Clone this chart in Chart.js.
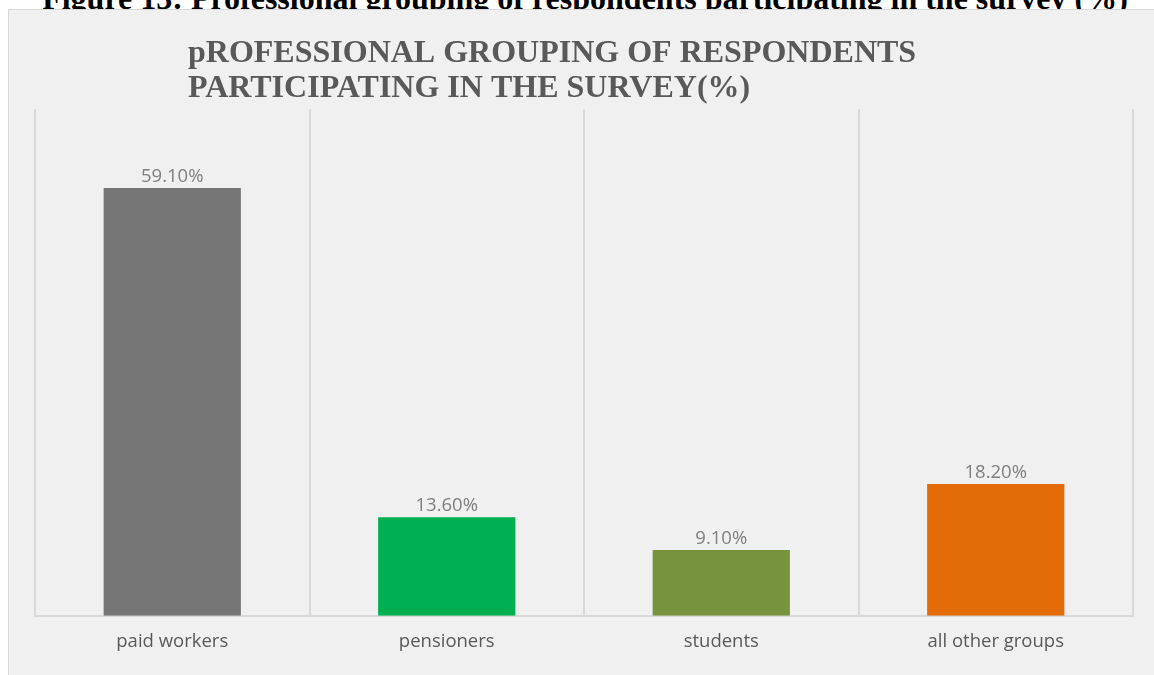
<!DOCTYPE html>
<html>
<head>
<meta charset="utf-8">
<script src="https://cdn.jsdelivr.net/npm/chart.js@4.4.0/dist/chart.umd.min.js"></script>
<style>
  html, body { margin: 0; padding: 0; background: #fff; overflow: hidden; }
  body { width: 1154px; height: 675px; position: relative; }
  #heading {
    position: absolute; left: 0; top: -20px; width: 1170px; text-align: center; line-height: 32px;
    font: bold 32px "Liberation Serif", "Times New Roman", serif; color: #000; white-space: nowrap;
  }
  #panel {
    position: absolute; left: 8px; top: 9px; width: 1146px; height: 666px;
    background: #f0f0f0; border-left: 1px solid #d9d9d9; border-top: 1px solid #d9d9d9;
  }
  #chart { display: block; }
</style>
</head>
<body>
<div id="heading">Figure 13: Professional grouping of respondents participating in the survey (%)</div>
<div id="panel"><canvas id="chart" width="1145" height="665"></canvas></div>
<script>
// values
const categories = ['paid workers', 'pensioners', 'students', 'all other groups'];
const shares = [59.1, 13.6, 9.1, 18.2];
const barColors = ['#767676', '#00b050', '#77933c', '#e36c09'];
const titleLines = ['pROFESSIONAL GROUPING OF RESPONDENTS', 'PARTICIPATING IN THE SURVEY(%)'];

// title and value labels drawn on the canvas
const extras = {
  id: 'extras',
  afterDraw(chart) {
    const ctx = chart.ctx;
    ctx.save();
    ctx.fillStyle = '#595959';
    ctx.font = 'bold 32px "Liberation Serif", "Times New Roman", serif';
    ctx.textAlign = 'left';
    ctx.textBaseline = 'alphabetic';
    ctx.fillText(titleLines[0], 179, 52);
    ctx.fillText(titleLines[1], 179, 87);

    ctx.fillStyle = '#7f7f7f';
    ctx.font = '18.5px "Open Sans", "Liberation Sans", sans-serif';
    ctx.textAlign = 'center';
    ctx.textBaseline = 'bottom';
    const meta = chart.getDatasetMeta(0);
    meta.data.forEach((bar, i) => {
      ctx.fillText(shares[i].toFixed(2) + '%', bar.x, bar.y - 2);
    });
    ctx.restore();
  }
};

new Chart(document.getElementById('chart').getContext('2d'), {
  type: 'bar',
  data: {
    labels: categories,
    datasets: [{
      data: shares,
      backgroundColor: barColors,
      barPercentage: 0.5,
      categoryPercentage: 1.0
    }]
  },
  options: {
    responsive: false,
    animation: false,
    layout: { padding: { left: 26, right: 21, top: 99, bottom: 7 } },
    plugins: { legend: { display: false }, tooltip: { enabled: false } },
    scales: {
      x: {
        offset: true,
        grid: { offset: true, color: '#d9d9d9', lineWidth: 2, drawTicks: false },
        border: { color: '#d9d9d9', width: 2 },
        ticks: { color: '#595959', padding: 15, font: { size: 18.5, family: '"Open Sans", "Liberation Sans", sans-serif' } }
      },
      y: { display: false, min: 0, max: 70 }
    }
  },
  plugins: [extras]
});
</script>
</body>
</html>
